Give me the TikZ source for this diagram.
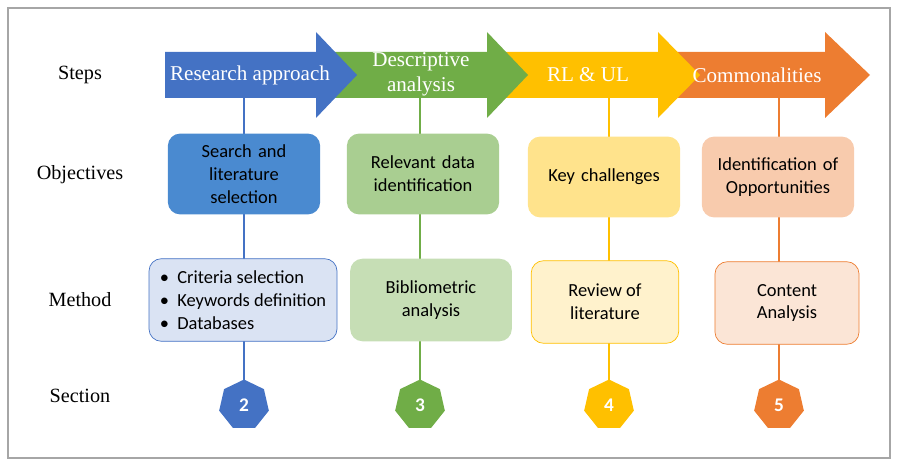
\documentclass[tikz,border=0pt]{standalone}
\usepackage{fontspec}
\setmainfont{Liberation Serif}
\newfontfamily\boxfont{Carlito}
\usetikzlibrary{shapes.geometric}
\definecolor{cblue}{HTML}{4472C4}
\definecolor{cgreen}{HTML}{70AD47}
\definecolor{cyellow}{HTML}{FFC000}
\definecolor{corange}{HTML}{ED7D31}
\definecolor{cobjblue}{HTML}{4A8AD0}
\tikzset{
 steparrow/.style={draw=none,fill=#1},
 steptext/.style={text=white,font=\fontsize{12}{14}\selectfont,align=center},
 rowlabel/.style={font=\fontsize{11.5}{13}\selectfont},
 objbox/.style={rounded corners=7pt,fill=#1,draw=none,minimum width=84pt,minimum height=46pt,align=center,font=\boxfont\fontsize{10.5}{13}\selectfont},
 methbox/.style={rounded corners=7pt,draw=#1,fill=#1!20,minimum height=47pt,align=center,font=\boxfont\fontsize{10.5}{13}\selectfont},
 sect/.style={regular polygon,regular polygon sides=7,fill=#1,inner sep=0pt,minimum size=29pt,text=white,font=\boxfont\bfseries\fontsize{11}{11}\selectfont},
 link/.style={draw=#1,line width=0.9pt}
}
\begin{document}
\begin{tikzpicture}[x=0.02cm,y=-0.02cm]
\useasboundingbox (0,0) rectangle (899,466);
\draw[gray!70,line width=0.6pt] (8,8) rectangle (890,458);
% vertical links first
\foreach \x/\c in {244/cblue,420/cgreen,609/cyellow,779/corange}
 \draw[link=\c] (\x,98) -- (\x,405);
% step arrows, right to left
\fill[steparrow=corange] (672,52) -- (825,52) -- (825,32) -- (870,75) -- (825,118) -- (825,98) -- (672,98) -- cycle;
\fill[steparrow=cyellow] (500,52) -- (658,52) -- (658,32) -- (700,75) -- (658,118) -- (658,98) -- (500,98) -- cycle;
\fill[steparrow=cgreen] (330,52) -- (487,52) -- (487,32) -- (528,75) -- (487,118) -- (487,98) -- (330,98) -- cycle;
\fill[steparrow=cblue] (165,52) -- (316,52) -- (316,32) -- (357,75) -- (316,118) -- (316,98) -- (165,98) -- cycle;
\node[steptext] (s1) at (250,75) {Research approach};
\node[steptext] (s2) at (421,74) {Descriptive\\analysis};
\node[steptext] (s3) at (588,75) {RL \& UL};
\node[steptext] (s4) at (757,75) {Commonalities};
% row labels
\node[rowlabel] (steps) at (80,75) {Steps};
\node[rowlabel] (obj) at (80,175) {Objectives};
\node[rowlabel] (meth) at (80,300) {Method};
\node[rowlabel] (sec) at (80,396) {Section};
% objectives
\node[objbox=cobjblue,text width=80pt] (o1) at (244,174) {Search and\\literature\\selection};
\node[objbox=cgreen!60!white,text width=80pt] (o2) at (423,174) {Relevant data\\identification};
\node[objbox=cyellow!45!white,text width=80pt] (o3) at (604,177) {Key challenges};
\node[objbox=corange!40!white,text width=80pt] (o4) at (778,177) {Identification of\\Opportunities};
% methods
\node[methbox=cblue,minimum width=107pt,align=left] (m1) at (243,300) {\textbullet\ \ Criteria selection\\\textbullet\ \ Keywords definition\\\textbullet\ \ Databases};
\node[methbox=cgreen!80!white,draw=none,fill=cgreen!40!white,minimum width=92pt] (m2) at (431,300) {Bibliometric\\analysis};
\node[methbox=cyellow,minimum width=84pt] (m3) at (605,302) {Review of\\literature};
\node[methbox=corange,minimum width=82pt] (m4) at (787,303) {Content\\Analysis};
% sections
\node[sect=cblue] (n2) at (244,405) {2};
\node[sect=cgreen] (n3) at (420,405) {3};
\node[sect=cyellow] (n4) at (609,405) {4};
\node[sect=corange] (n5) at (779,405) {5};
\end{tikzpicture}
\end{document}
